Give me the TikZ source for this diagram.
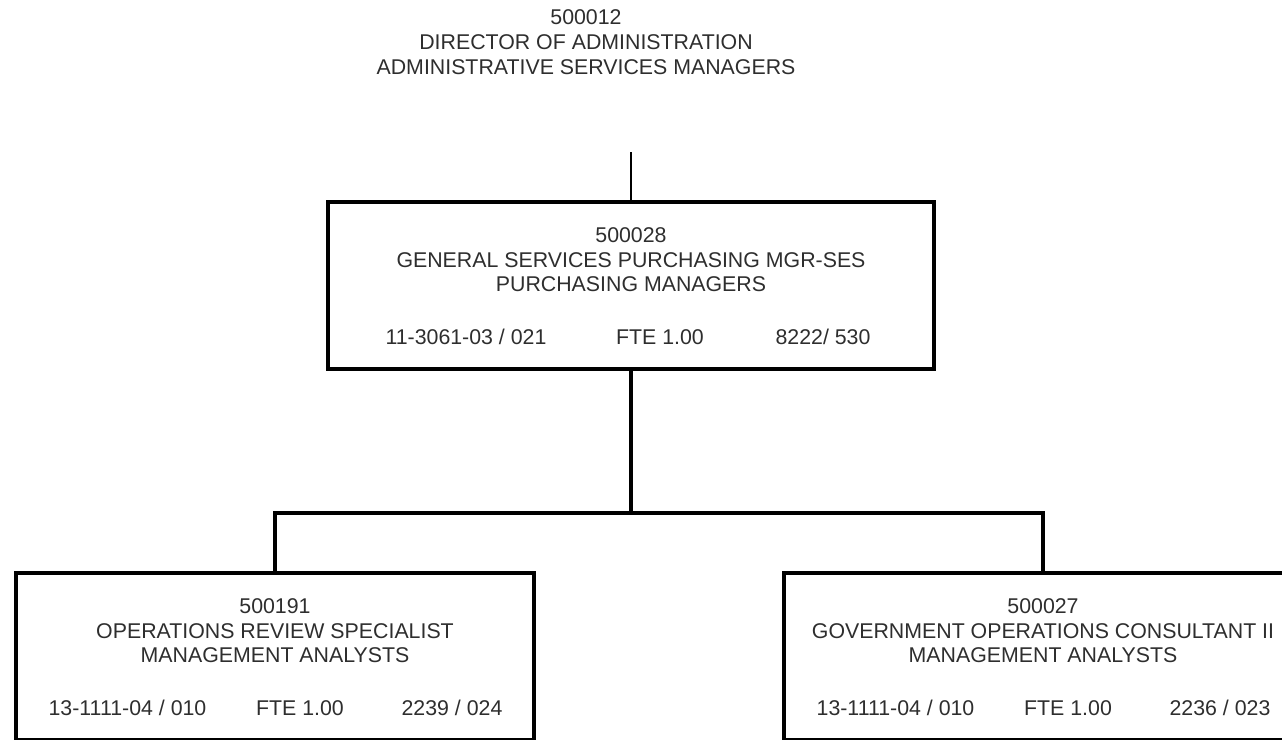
\documentclass[tikz,border=0pt]{standalone}
\usepackage{fontspec}
\setmainfont{Liberation Sans}
\usetikzlibrary{calc}
\begin{document}
\begin{tikzpicture}[x=1pt,y=-1pt,
  label/.style={font=\fontsize{21.33}{24.5}\selectfont, text=black!82, inner sep=0pt, anchor=base},
  posbox/.style={draw=black, line width=4pt, outer sep=0pt, inner sep=0pt, minimum height=167},
  conn/.style={draw=black, line width=4pt},
  link/.style={draw=black, line width=1.3pt}]
\useasboundingbox (0,0) rectangle (1282,739);

% reporting line above
\node[label] (dir1) at (586,24.6) {500012};
\node[label] (dir2) at (586,49.6) {DIRECTOR OF ADMINISTRATION};
\node[label] (dir3) at (586,74.6) {ADMINISTRATIVE SERVICES MANAGERS};
\coordinate (dirlink) at (631,152);

% position boxes
\node[posbox, minimum width=606] (mid) at (631,285.5) {};
\node[posbox, minimum width=518] (left) at (275,656.5) {};
\node[posbox, minimum width=518] (right) at (1043,656.5) {};

% connectors
\coordinate (bus) at (631,513);
\draw[link] (dirlink) -- (mid.north);
\draw[conn] (mid.south) -- (bus);
\draw[conn] (left.north) |- (bus) -| (right.north);

% middle box text
\node[label] (m1) at ($(mid.north)+(0,40.6)$) {500028};
\node[label] (m2) at ($(mid.north)+(0,65.6)$) {GENERAL SERVICES PURCHASING MGR-SES};
\node[label] (m3) at ($(mid.north)+(0,89.6)$) {PURCHASING MANAGERS};
\node[label] (m4) at ($(mid.north)+(-165,142.6)$) {11-3061-03 / 021};
\node[label] (m5) at ($(mid.north)+(29,142.6)$) {FTE 1.00};
\node[label] (m6) at ($(mid.north)+(192,142.6)$) {8222/ 530};

% left box text
\node[label] (l1) at ($(left.north)+(0,40.6)$) {500191};
\node[label] (l2) at ($(left.north)+(0,65.6)$) {OPERATIONS REVIEW SPECIALIST};
\node[label] (l3) at ($(left.north)+(0,89.6)$) {MANAGEMENT ANALYSTS};
\node[label] (l4) at ($(left.north)+(-147.5,142.6)$) {13-1111-04 / 010};
\node[label] (l5) at ($(left.north)+(25,142.6)$) {FTE 1.00};
\node[label] (l6) at ($(left.north)+(177,142.6)$) {2239 / 024};

% right box text
\node[label] (r1) at ($(right.north)+(0,40.6)$) {500027};
\node[label] (r2) at ($(right.north)+(0,65.6)$) {GOVERNMENT OPERATIONS CONSULTANT II};
\node[label] (r3) at ($(right.north)+(0,89.6)$) {MANAGEMENT ANALYSTS};
\node[label] (r4) at ($(right.north)+(-147.5,142.6)$) {13-1111-04 / 010};
\node[label] (r5) at ($(right.north)+(25,142.6)$) {FTE 1.00};
\node[label] (r6) at ($(right.north)+(177,142.6)$) {2236 / 023};
\end{tikzpicture}
\end{document}
